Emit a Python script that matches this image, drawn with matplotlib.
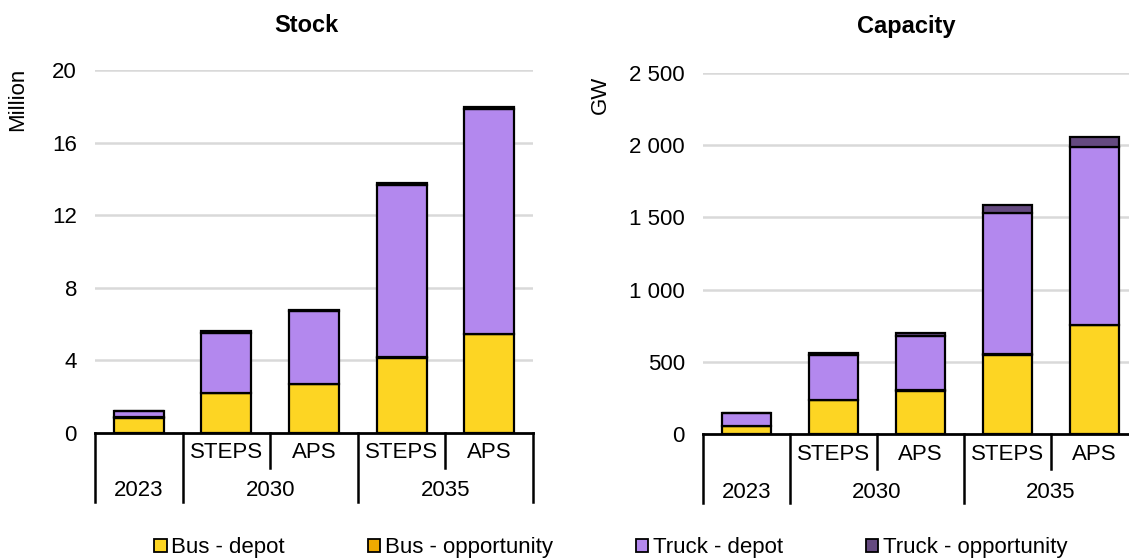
import matplotlib
matplotlib.use("Agg")
import matplotlib.pyplot as plt
import matplotlib.transforms as mtransforms
from matplotlib.patches import Patch

plt.rcParams['font.family'] = ['Liberation Sans', 'DejaVu Sans']

# data
scenarios = ['', 'STEPS', 'APS', 'STEPS', 'APS']
years = ['2023', '2030', '2035']
year_span = [1, 2, 2]
series = ['Bus - depot', 'Bus - opportunity', 'Truck - depot', 'Truck - opportunity']
colors = ['#FDD523', '#F0AA00', '#B388EE', '#654A80']

stock_bus_depot = [0.85, 2.2, 2.7, 4.15, 5.45]
stock_bus_opp = [0.01, 0.02, 0.02, 0.03, 0.03]
stock_truck_depot = [0.35, 3.3, 4.0, 9.5, 12.35]
stock_truck_opp = [0.01, 0.08, 0.08, 0.12, 0.15]

cap_bus_depot = [55, 235, 300, 548, 753]
cap_bus_opp = [1, 2, 2, 3, 3]
cap_truck_depot = [88, 310, 378, 978, 1233]
cap_truck_opp = [1, 15, 16, 56, 71]

W, H = 1129, 559
fig = plt.figure(figsize=(W / 100, H / 100), dpi=100)
FS = 16


def make_panel(left_px, right_px, bottom_px, top_px, vals, ymax, ystep, ticklabels, ylabel, ylabel_xy):
    ax = fig.add_axes([left_px / W, 1 - bottom_px / H, (right_px - left_px) / W, (bottom_px - top_px) / H])
    x = [i + 0.5 for i in range(len(scenarios))]
    base = [0] * len(x)
    for v, c in zip(vals, colors):
        ax.bar(x, v, bottom=base, width=0.57, color=c, edgecolor='black', linewidth=1.6, zorder=3)
        base = [b + a for b, a in zip(base, v)]
    ax.set_xlim(0, len(x))
    ax.set_ylim(0, ymax)
    ticks = [i * ystep for i in range(len(ticklabels))]
    ax.set_yticks(ticks)
    ax.set_yticklabels(ticklabels, fontsize=FS)
    ax.tick_params(axis='y', length=0, pad=13)
    ax.set_xticks([])
    for t in ticks[1:]:
        ax.axhline(t, color='#D9D9D9', linewidth=1.8, zorder=1)
    for s in ['top', 'right', 'left']:
        ax.spines[s].set_visible(False)
    ax.spines['bottom'].set_linewidth(2)
    ax.spines['bottom'].set_zorder(4)

    hpx = bottom_px - top_px
    tr = mtransforms.blended_transform_factory(ax.transData, ax.transAxes)
    # category separators
    long_y = -69 / hpx
    short_y = -35 / hpx
    edges = [0]
    for s in year_span:
        edges.append(edges[-1] + s)
    for i in range(len(scenarios) + 1):
        yb = long_y if i in edges else short_y
        ax.plot([i, i], [0, yb], color='black', linewidth=1.8, transform=tr, clip_on=False)
    for i, s in enumerate(scenarios):
        ax.text(i + 0.5, -20 / hpx, s, transform=tr, ha='center', va='center', fontsize=FS)
    for j, yr in enumerate(years):
        ax.text((edges[j] + edges[j + 1]) / 2, -58 / hpx, yr, transform=tr, ha='center', va='center', fontsize=FS)

    fig.text(ylabel_xy[0] / W, 1 - ylabel_xy[1] / H, ylabel, rotation=90, ha='center', va='center', fontsize=FS)
    return ax


make_panel(95, 533, 433, 70,
           [stock_bus_depot, stock_bus_opp, stock_truck_depot, stock_truck_opp],
           20, 4, ['0', '4', '8', '12', '16', '20'], 'Million', (18, 99))
make_panel(703, 1138, 434, 73,
           [cap_bus_depot, cap_bus_opp, cap_truck_depot, cap_truck_opp],
           2500, 500, ['0', '500', '1 000', '1 500', '2 000', '2 500'], 'GW', (600, 95))

fig.text(306 / W, 1 - 26 / H, 'Stock', ha='center', va='center', fontsize=FS + 1, fontweight='bold')
fig.text(906 / W, 1 - 26 / H, 'Capacity', ha='center', va='center', fontsize=FS + 1, fontweight='bold')

handles = [Patch(facecolor=c, edgecolor='black', linewidth=1.3) for c in colors]
fig.legend(handles, series, loc='center', bbox_to_anchor=(0.541, 1 - 548 / H), ncol=4, frameon=False,
           fontsize=FS, handlelength=0.55, handleheight=0.55, handletextpad=0.2, columnspacing=3.75)

fig.savefig('out.png', dpi=100)
